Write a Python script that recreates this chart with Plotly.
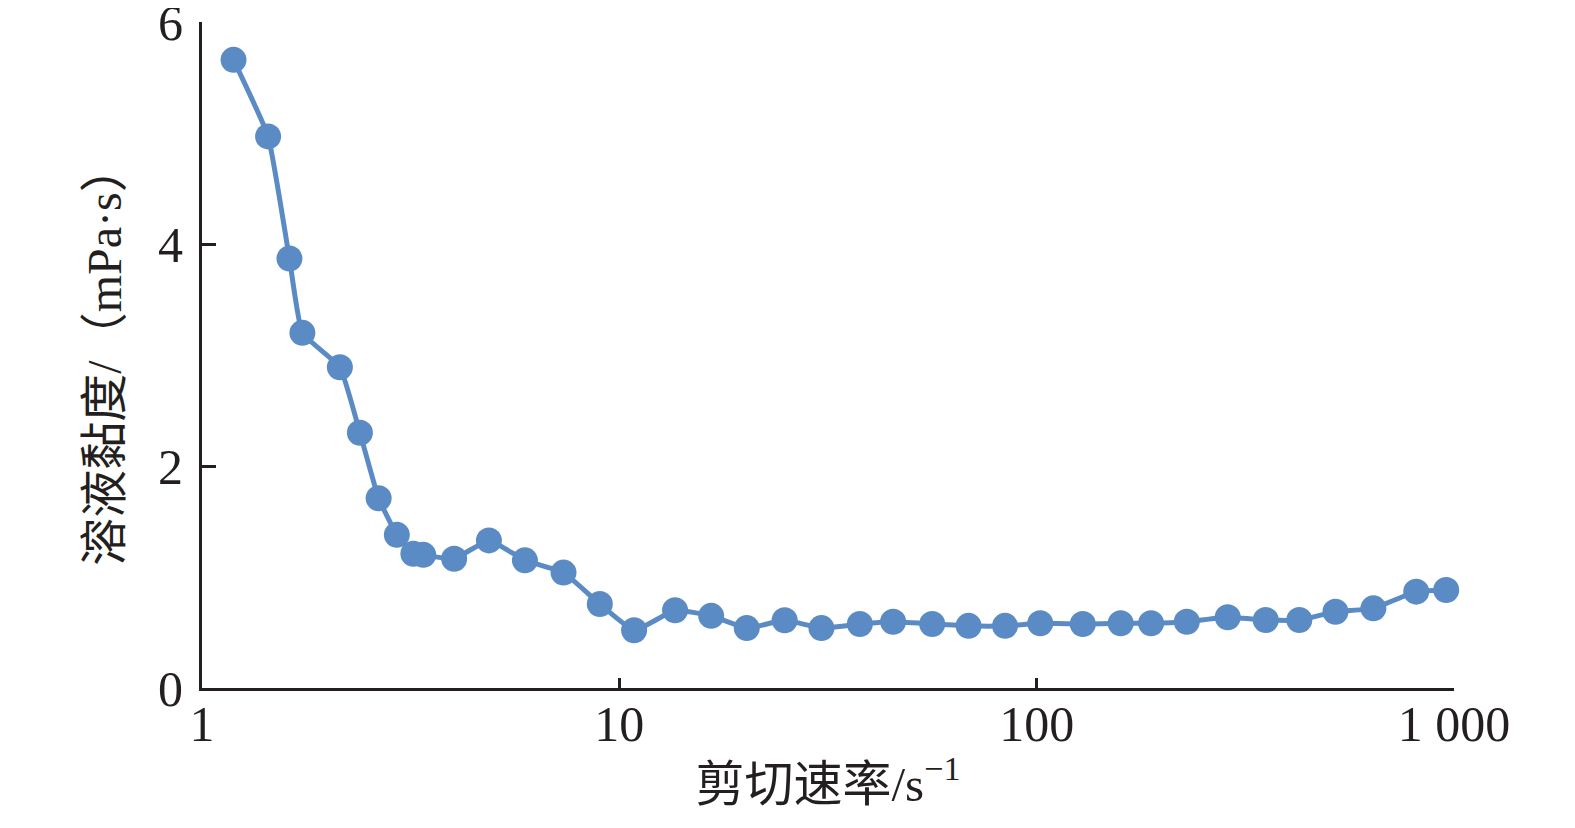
import plotly.graph_objects as go

# shear rate (s^-1) and solution viscosity (mPa·s)
shear_rate = [1.19, 1.44, 1.62, 1.74, 2.14, 2.39, 2.65, 2.93, 3.21, 3.39,
              4.02, 4.87, 5.94, 7.35, 8.98, 10.85, 13.6, 16.6, 20.2, 24.9,
              30.5, 37.7, 45.3, 56.2, 68.7, 84.0, 102, 129, 159, 188,
              229, 287, 354, 426, 520, 641, 812, 958]
viscosity = [5.66, 4.97, 3.87, 3.20, 2.89, 2.30, 1.71, 1.38, 1.21, 1.20,
             1.165, 1.33, 1.15, 1.04, 0.757, 0.52, 0.70, 0.65, 0.54, 0.61,
             0.54, 0.577, 0.597, 0.577, 0.56, 0.56, 0.583, 0.577, 0.583, 0.583,
             0.597, 0.637, 0.613, 0.613, 0.687, 0.718, 0.868, 0.883]

x_tickvals = [1, 10, 100, 1000]
x_ticktext = ['1', '10', '100', '1 000']
y_tickvals = [0, 2, 4, 6]

font_family = 'Liberation Serif, Noto Sans CJK SC, serif'
blue = '#5b8bc4'
axis_color = '#231f20'

fig = go.Figure(go.Scatter(
    x=shear_rate, y=viscosity,
    mode='lines+markers',
    line=dict(color=blue, width=5, shape='spline', smoothing=0.4),
    marker=dict(color=blue, size=26),
    cliponaxis=False,
    showlegend=False,
))

# the page body has an 8px margin, so the figure is made 8px smaller
fig.update_layout(
    width=1567, height=820,
    margin=dict(l=194, r=121, t=14, b=140),
    plot_bgcolor='white', paper_bgcolor='white',
    font=dict(family=font_family, size=50, color=axis_color),
)

fig.update_xaxes(
    type='log', range=[0, 3.0001], automargin=False,
    tickvals=x_tickvals, ticktext=x_ticktext,
    ticks='inside', ticklen=10, tickwidth=3, tickcolor=axis_color,
    showline=True, linewidth=3, linecolor=axis_color,
    showgrid=False, zeroline=False,
    tickfont=dict(size=50), ticklabelstandoff=-10, ticklabeloverflow='allow',
    title=dict(text='剪切速率/s<sup>−1</sup>', font=dict(size=49), standoff=16),
)

fig.update_yaxes(
    range=[0, 6.001], automargin=False,
    tickvals=y_tickvals,
    ticks='inside', ticklen=14, tickwidth=3, tickcolor=axis_color,
    showline=True, linewidth=3, linecolor=axis_color,
    showgrid=False, zeroline=False,
    tickfont=dict(size=50), ticklabelstandoff=6, ticklabeloverflow='allow',
    title=dict(text='溶液黏度/（mPa·s）', font=dict(size=48), standoff=22),
)

fig.write_html('out.html')
